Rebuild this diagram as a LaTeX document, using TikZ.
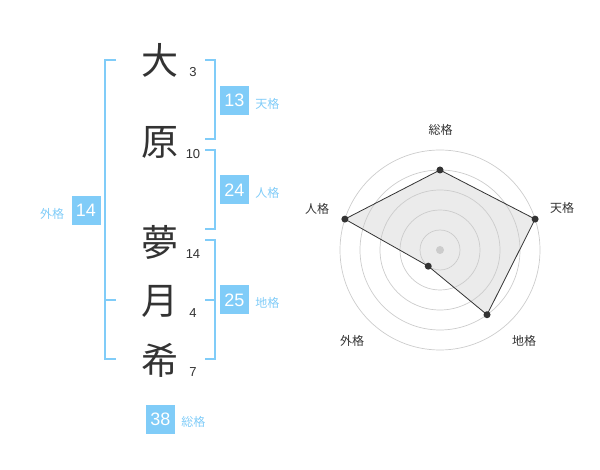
\documentclass[tikz,border=0pt]{standalone}
\usepackage{fontspec}
\setmainfont{Liberation Sans}
\newfontfamily\jp{Noto Sans CJK JP}
\usetikzlibrary{positioning, calc}
\definecolor{kakublue}{HTML}{80CCF8}
\definecolor{inkgray}{HTML}{333333}
\definecolor{ringgray}{HTML}{CCCCCC}

\tikzset{
  kaku/.style={fill=kakublue, text=white, minimum size=29pt, inner sep=0pt, font=\fontsize{18}{18}\selectfont},
  kakulabel/.style={text=kakublue, font=\jp\fontsize{12}{12}\selectfont, yshift=-3pt},
  brace/.style={draw=kakublue, line width=2pt},
  dot/.style={circle, fill=inkgray, minimum size=7pt, inner sep=0pt},
  radarlabel/.style={text=inkgray, font=\jp\fontsize{12}{12}\selectfont},
}

\begin{document}
\begin{tikzpicture}[x=1pt, y=-1pt, every node/.style={inner sep=0pt, align=center}]
    \useasboundingbox (0,0) rectangle (600,470);

    % kanji dan jumlah goresan
    \foreach \c/\n/\y [count=\i] in {大/3/60, 原/10/142, 夢/14/242, 月/4/301, 希/7/360}{
        \node[text=inkgray, font=\jp\fontsize{37}{37}\selectfont] (ch\i) at (160,\y) {\c};
        \node[text=inkgray, font=\fontsize{13}{13}\selectfont] (st\i) at (193,\y+12) {\n};
      }

    % kurung
    \draw[brace] (116,60) -- (105,60) -- (105,359) -- (116,359);
    \draw[brace] (105,300) -- (116,300);
    \draw[brace] (205,60) -- (214.5,60) -- (214.5,139) -- (205,139);
    \draw[brace] (205,150) -- (214.5,150) -- (214.5,229) -- (205,229);
    \draw[brace] (205,240) -- (214.5,240) -- (214.5,359) -- (205,359);
    \draw[brace] (205,300) -- (214.5,300);

    % kotak nilai
    \node[kaku] (ten) at (234.5,100.5) {13};
    \node[kakulabel, right=6pt of ten] (tenL) {天格};
    \node[kaku] (jin) at (234.5,190) {24};
    \node[kakulabel, right=6pt of jin] (jinL) {人格};
    \node[kaku] (chi) at (234.5,300) {25};
    \node[kakulabel, right=6pt of chi] (chiL) {地格};
    \node[kaku] (gai) at (86,210.5) {14};
    \node[kakulabel, left=7pt of gai] (gaiL) {外格};
    \node[kaku] (sou) at (160.5,419) {38};
    \node[kakulabel, right=6pt of sou] (souL) {総格};

    % radar
    \coordinate (O) at (440,250);
    \foreach \a/\v [count=\i] in {-90/4, -18/5, 54/4, 126/1, 198/5}{
        \coordinate (q\i) at ($(O)+(\a:20*\v)$);
      }
    \fill[ringgray!40] (q1) -- (q2) -- (q3) -- (q4) -- (q5) -- cycle;
    \foreach \r in {1,...,5}{
        \draw[ringgray, line width=0.7pt] (O) circle (20*\r);
      }
    \node[circle, fill=ringgray, minimum size=8pt] (mid) at (O) {};
    \draw[inkgray, line width=0.8pt] (q1) -- (q2) -- (q3) -- (q4) -- (q5) -- cycle;
    \foreach \i in {1,...,5}{
        \node[dot] (p\i) at (q\i) {};
      }

    % label radar
    \node[radarlabel] (rSou) at (440.5,130) {総格};
    \node[radarlabel] (rTen) at (562,208) {天格};
    \node[radarlabel] (rChi) at (524,341) {地格};
    \node[radarlabel] (rGai) at (352,341) {外格};
    \node[radarlabel] (rJin) at (317,209) {人格};
  \end{tikzpicture}
\end{document}
